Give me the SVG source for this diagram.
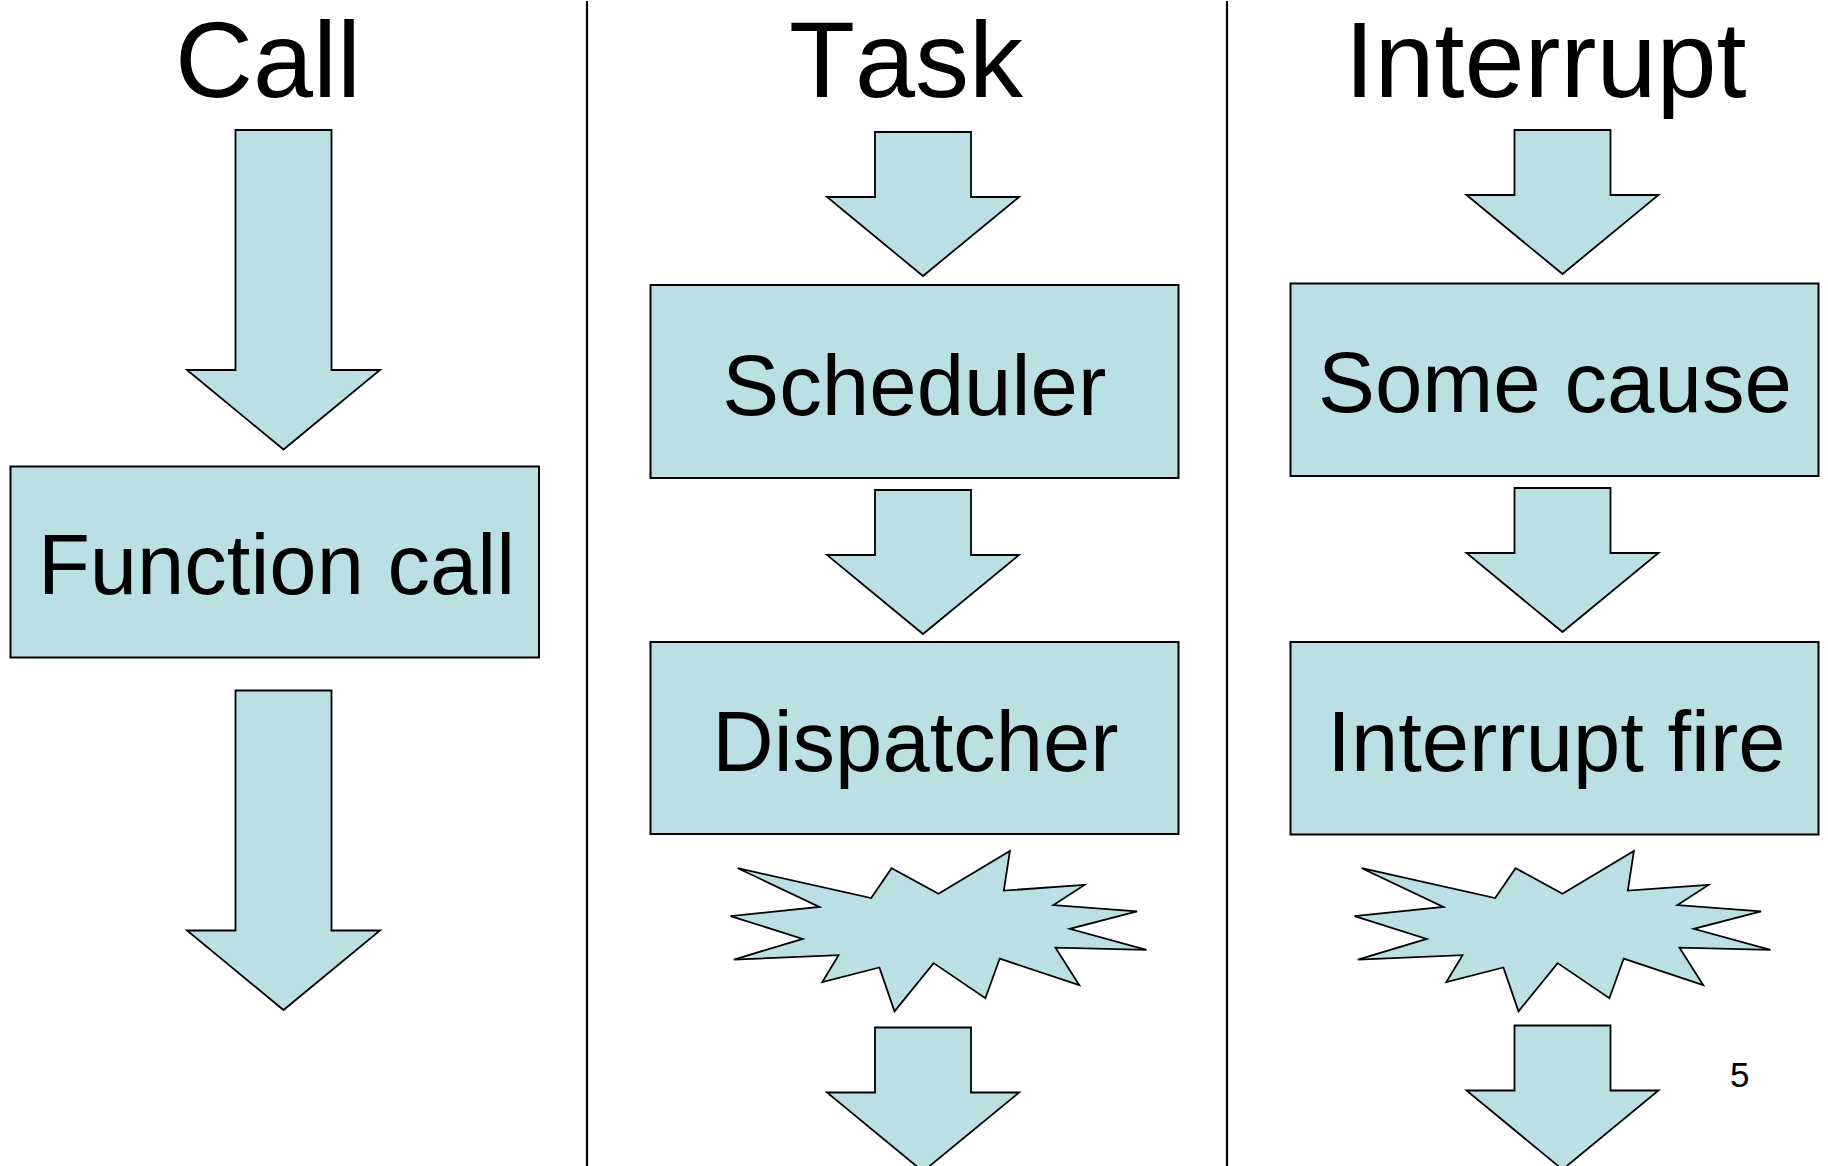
<svg xmlns="http://www.w3.org/2000/svg" xmlns:xlink="http://www.w3.org/1999/xlink" width="1828" height="1166" viewBox="0 0 1828 1166">
  <style>
    text { font-kerning: none; }
    .shape { fill: #BBE0E3; stroke: #000000; stroke-width: 2; stroke-linejoin: miter; }
    .arrow { fill: #BBE0E3; stroke: #000000; stroke-width: 1.8; stroke-linejoin: miter; }
    .divider { stroke: #000000; stroke-width: 2.2; }
    .title { font-family: "Liberation Sans", Arial, sans-serif; font-size: 108px; fill: #000000; text-anchor: middle; }
    .label { font-family: "Liberation Sans", Arial, sans-serif; font-size: 85px; fill: #000000; text-anchor: middle; }
    .pagenum { font-family: "Liberation Sans", Arial, sans-serif; font-size: 35px; fill: #000000; }
  </style>
  <defs>
    <polygon id="arrowLong" points="-48,0 48,0 48,240 96.5,240 0,319.5 -96.5,240 -48,240"/>
    <polygon id="arrowShort" points="-48,0 48,0 48,65 96,65 0,144 -96,65 -48,65"/>
    <polygon id="burst" points="737.8,868.2 871.2,898.1 891.6,868.2 938.5,893.7 1009.9,851.1 1003.8,890.6 1084.5,884.9 1053.5,905.1 1137.1,911.3 1069.8,928.8 1146.5,949.9 1055.5,947.7 1079.2,985 999.7,958.7 985.4,998.2 933.6,963.1 894.5,1011.4 879.4,967.5 822.3,982 838.6,955.2 733.8,959.6 802.7,938.9 730.5,916.1 819.4,906.9"/>
  </defs>
  <rect x="0" y="0" width="1828" height="1166" fill="#FFFFFF"/>

  <g id="dividers">
    <line class="divider" x1="587" y1="1" x2="587" y2="1166"/>
    <line class="divider" x1="1227" y1="1" x2="1227" y2="1166"/>
  </g>

  <g id="titles">
    <text class="title" x="268" y="96.5">Call</text>
    <text class="title" x="906" y="96.5">Task</text>
    <text class="title" x="1545.5" y="96.5">Interrupt</text>
  </g>

  <g id="node-function-call">
    <rect class="shape" x="10.5" y="466.5" width="528.5" height="191"/>
    <text class="label" x="276.5" y="593.5">Function call</text>
  </g>

  <g id="node-scheduler">
    <rect class="shape" x="650.5" y="285" width="528" height="193"/>
    <text class="label" x="914.3" y="415" font-size="89" textLength="384" lengthAdjust="spacingAndGlyphs">Scheduler</text>
  </g>

  <g id="node-dispatcher">
    <rect class="shape" x="650.5" y="642" width="528" height="192"/>
    <text class="label" x="915.5" y="770.7">Dispatcher</text>
  </g>

  <g id="node-task-burst">
    <use xlink:href="#burst" href="#burst" class="shape" style="stroke-width:1.8"/>
  </g>

  <g id="node-some-cause">
    <rect class="shape" x="1290.5" y="283.5" width="528" height="192.5"/>
    <text class="label" x="1555" y="411.7" font-size="88" textLength="474" lengthAdjust="spacingAndGlyphs">Some cause</text>
  </g>

  <g id="node-interrupt-fire">
    <rect class="shape" x="1290.5" y="642" width="528" height="192.5"/>
    <text class="label" x="1556.4" y="770.7">Interrupt fire</text>
  </g>

  <g id="node-interrupt-burst">
    <use xlink:href="#burst" href="#burst" class="shape" style="stroke-width:1.8" transform="translate(624,0)"/>
  </g>

  <g id="connectors">
    <use xlink:href="#arrowLong" href="#arrowLong" class="arrow" transform="translate(283.5,130)"/>
    <use xlink:href="#arrowLong" href="#arrowLong" class="arrow" transform="translate(283.5,690.5)"/>
    <use xlink:href="#arrowShort" href="#arrowShort" class="arrow" transform="translate(923,132)"/>
    <use xlink:href="#arrowShort" href="#arrowShort" class="arrow" transform="translate(923,490)"/>
    <use xlink:href="#arrowShort" href="#arrowShort" class="arrow" transform="translate(923,1027.5)"/>
    <use xlink:href="#arrowShort" href="#arrowShort" class="arrow" transform="translate(1562.5,130)"/>
    <use xlink:href="#arrowShort" href="#arrowShort" class="arrow" transform="translate(1562.5,488)"/>
    <use xlink:href="#arrowShort" href="#arrowShort" class="arrow" transform="translate(1562.5,1025.5)"/>
  </g>

  <g id="page-number">
    <text class="pagenum" x="1730" y="1086.5">5</text>
  </g>
</svg>
